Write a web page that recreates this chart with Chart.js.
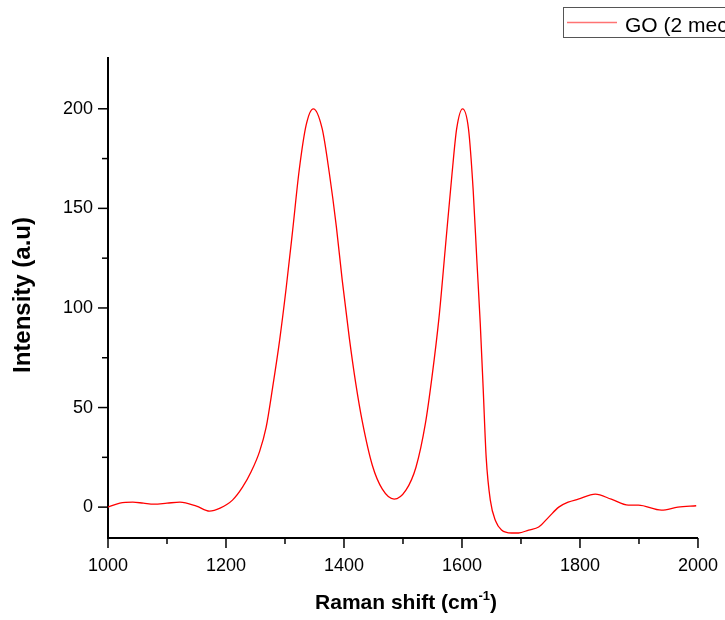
<!DOCTYPE html>
<html>
<head>
<meta charset="utf-8">
<script src="https://cdn.jsdelivr.net/npm/chart.js@4"></script>
<style>
  html, body { margin: 0; padding: 0; background: #fff; }
  #wrap { width: 725px; height: 620px; position: relative; overflow: hidden; }
</style>
</head>
<body>
<div id="wrap"><canvas id="raman" width="725" height="620"></canvas></div>
<script>
// Raman spectrum of GO
const shift = [1000, 1020, 1042, 1060, 1078, 1100, 1122, 1150, 1172, 1190, 1211, 1228, 1243, 1257, 1268,
  1279, 1291, 1302, 1313, 1324, 1336, 1348, 1363, 1375, 1387, 1397, 1409, 1420, 1431, 1448, 1465,
  1485, 1505, 1522, 1538, 1549, 1561, 1572, 1583, 1591, 1601, 1611, 1619, 1625, 1631, 1636, 1641,
  1648, 1657, 1667, 1684, 1696, 1713, 1730, 1747, 1764, 1780, 1797, 1826, 1853, 1882, 1899, 1938,
  1966, 1997];
const intensity = [0, 2, 2.5, 2, 1.5, 2, 2.5, 0.5, -2, -0.5, 3.5, 10, 18, 28, 40,
  60, 84, 110, 139, 169, 192, 200, 190, 168, 141, 114, 85, 62, 43, 21, 9,
  4, 8.5, 20, 42, 65, 95, 131, 167, 190, 200, 190, 159, 125, 92, 59, 25,
  3.5, -7, -11.5, -13, -13, -11.5, -10, -5, 0, 2.5, 4, 6.5, 4, 1, 1, -1.5,
  0, 0.7];

const xMajor = [1000, 1200, 1400, 1600, 1800, 2000];
const xMinor = [1100, 1300, 1500, 1700, 1900];
const yMajor = [0, 50, 100, 150, 200];
const yMinor = [25, 75, 125, 175];
const seriesName = 'GO (2 mec';

const FONT = 'Arial, "Liberation Sans", sans-serif';

// tick marks (major and minor) drawn outward from the axes
const tickMarks = {
  id: 'tickMarks',
  afterDraw(chart) {
    const { ctx, chartArea: a, scales: { x, y } } = chart;
    ctx.save();
    ctx.strokeStyle = '#000';
    ctx.lineWidth = 1.5;
    const draw = (x1, y1, x2, y2) => { ctx.beginPath(); ctx.moveTo(x1, y1); ctx.lineTo(x2, y2); ctx.stroke(); };
    xMajor.forEach(v => { const p = x.getPixelForValue(v); draw(p, a.bottom, p, a.bottom + 10); });
    xMinor.forEach(v => { const p = x.getPixelForValue(v); draw(p, a.bottom, p, a.bottom + 6); });
    yMajor.forEach(v => { const p = y.getPixelForValue(v); draw(a.left - 10, p, a.left, p); });
    yMinor.forEach(v => { const p = y.getPixelForValue(v); draw(a.left - 6, p, a.left, p); });
    ctx.restore();
  }
};

// axis titles and the boxed legend
const labels = {
  id: 'labels',
  afterDraw(chart) {
    const { ctx } = chart;
    ctx.save();
    ctx.fillStyle = '#000';

    // y title
    ctx.font = 'bold 24px ' + FONT;
    ctx.textAlign = 'center';
    ctx.textBaseline = 'middle';
    ctx.translate(23, 295);
    ctx.rotate(-Math.PI / 2);
    ctx.fillText('Intensity (a.u)', 0, 0);
    ctx.setTransform(1, 0, 0, 1, 0, 0);

    // x title with superscript
    const big = 'bold 21px ' + FONT;
    const small = 'bold 13px ' + FONT;
    const p1 = 'Raman shift (cm', sup = '-1', p2 = ')';
    ctx.font = big; const w1 = ctx.measureText(p1).width, w3 = ctx.measureText(p2).width;
    ctx.font = small; const w2 = ctx.measureText(sup).width;
    let tx = 406 - (w1 + w2 + w3) / 2;
    const base = 609;
    ctx.textAlign = 'left';
    ctx.textBaseline = 'alphabetic';
    ctx.font = big; ctx.fillText(p1, tx, base); tx += w1;
    ctx.font = small; ctx.fillText(sup, tx, base - 9); tx += w2;
    ctx.font = big; ctx.fillText(p2, tx, base);

    // legend
    ctx.strokeStyle = '#555';
    ctx.lineWidth = 1;
    ctx.strokeRect(563.5, 7.5, 200, 30);
    ctx.strokeStyle = 'rgba(255,0,0,0.55)';
    ctx.lineWidth = 1.5;
    ctx.beginPath(); ctx.moveTo(567, 22.5); ctx.lineTo(617, 22.5); ctx.stroke();
    ctx.font = '21px ' + FONT;
    ctx.textBaseline = 'alphabetic';
    ctx.fillText(seriesName, 625, 32);
    ctx.restore();
  }
};

new Chart(document.getElementById('raman'), {
  type: 'line',
  data: {
    datasets: [{
      label: seriesName,
      data: shift.map((s, i) => ({ x: s, y: intensity[i] })),
      borderColor: '#ff0000',
      borderWidth: 1.3,
      pointRadius: 0,
      cubicInterpolationMode: 'monotone',
      fill: false
    }]
  },
  options: {
    responsive: false,
    animation: false,
    layout: { padding: { top: 58, right: 23, left: 0, bottom: 0 } },
    plugins: { legend: { display: false }, tooltip: { enabled: false } },
    scales: {
      x: {
        type: 'linear',
        min: 1000,
        max: 2000,
        afterBuildTicks: s => { s.ticks = xMajor.map(v => ({ value: v })); },
        afterFit: s => { s.height = 82; },
        grid: { display: true, drawOnChartArea: false, color: 'transparent', tickLength: 10 },
        border: { display: true, color: '#000', width: 2 },
        ticks: { color: '#000', padding: 7, maxRotation: 0, callback: v => String(v), font: { family: FONT, size: 18 } }
      },
      y: {
        type: 'linear',
        min: -15.5,
        max: 225.5,
        afterBuildTicks: s => { s.ticks = yMajor.map(v => ({ value: v })); },
        afterFit: s => { s.width = 108; },
        grid: { display: true, drawOnChartArea: false, color: 'transparent', tickLength: 10 },
        border: { display: true, color: '#000', width: 2 },
        ticks: { color: '#000', padding: 5, callback: v => String(v), font: { family: FONT, size: 18 } }
      }
    }
  },
  plugins: [tickMarks, labels]
});
</script>
</body>
</html>
